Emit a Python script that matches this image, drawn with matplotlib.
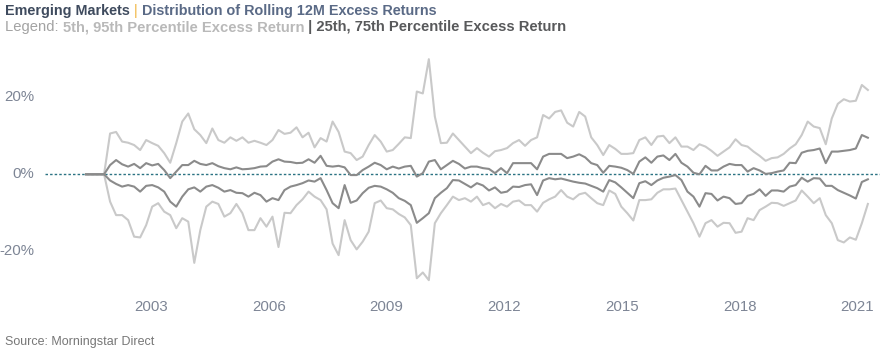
import matplotlib
matplotlib.use("Agg")
import matplotlib.pyplot as plt
import matplotlib.transforms as mtransforms
from matplotlib import font_manager
import numpy as np
import pandas as pd

# ---------------- data (percent) ----------------
p95 = [0, 0, 0, 0,
       10.6, 11.0, 8.5, 8.2, 7.6, 6.3, 8.9, 8.1, 7.4, 5.5, 3.0, 8.1, 13.7, 15.8, 11.7, 10.2, 8.1,
       11.9, 8.9, 8.2, 9.6, 8.7, 9.6, 8.2, 8.7, 8.2, 7.6, 8.9, 11.5, 10.5, 10.8, 12.2, 9.6, 10.8, 7.0, 9.4, 8.5, 13.7, 11.0,
       5.9, 5.5, 3.7, 4.6, 7.6, 10.2, 8.5, 5.9, 6.3, 7.9, 9.6, 9.4, 21.5, 21.0, 29.9, 15.0, 8.1, 8.2, 10.6, 8.9, 7.2, 5.5,
       6.8, 5.6, 4.6, 6.0, 6.3, 6.8, 8.1, 8.9, 7.4, 8.9, 9.6, 15.4, 14.5, 16.2, 16.6, 13.4, 12.4, 16.2, 15.0, 9.6, 7.6, 5.0,
       7.6, 6.6, 5.3, 5.3, 5.5, 8.9, 9.6, 7.6, 9.8, 10.0, 8.1, 9.6, 7.2, 7.2, 6.3, 7.8, 7.2, 6.1, 4.8, 5.9, 7.0, 9.1,
       7.6, 7.2, 5.9, 4.8, 3.5, 4.2, 4.4, 5.3, 6.7, 7.8, 10.2, 13.7, 12.4, 12.0, 7.8, 14.5, 18.3, 19.5, 18.9, 19.1, 23.2, 21.9]

p75 = [0, 0, 0, 0,
       2.4, 3.7, 2.6, 2.0, 2.7, 1.6, 2.9, 2.3, 2.7, 1.1, -1.0, 0.7, 2.4, 2.4, 3.5, 2.7, 2.4,
       2.9, 2.1, 1.6, 1.3, 1.8, 1.3, 1.4, 1.6, 2.0, 2.1, 3.3, 3.9, 3.3, 3.2, 2.9, 3.0, 3.9, 3.0, 4.8, 2.2, 2.0, 2.2,
       1.8, -0.2, -0.2, 1.1, 2.0, 3.0, 2.4, 1.3, 2.0, 1.5, 2.0, 2.2, -0.6, 0.3, 3.3, 3.7, 1.3, 2.4, 3.5, 2.7, 1.5, 2.0,
       2.0, 1.6, 1.4, 0.3, 1.6, 0.3, 2.9, 2.9, 2.9, 2.9, 1.3, 4.6, 5.3, 5.3, 5.3, 4.2, 4.6, 5.2, 4.4, 2.9, 2.4, 0.4,
       2.2, 2.0, 1.7, 1.1, 0.1, 3.3, 4.4, 3.0, 4.6, 4.9, 3.7, 5.3, 3.0, 2.0, 0.4, 0.0, 2.2, 1.0, 1.0, 2.0, 2.7, 2.4,
       2.4, 0.7, 1.6, 1.0, 0.1, 0.3, 0.7, 1.0, 3.0, 2.9, 5.6, 6.1, 6.3, 6.7, 2.9, 5.9, 5.9, 6.1, 6.3, 6.7, 10.2, 9.5]

p25 = [0, 0, 0, 0,
       -1.6, -2.5, -3.2, -2.8, -3.2, -4.5, -3.0, -2.8, -3.4, -4.5, -7.1, -8.4, -5.8, -3.9, -3.4, -4.5, -3.2,
       -2.8, -3.5, -4.5, -4.1, -4.8, -4.9, -5.8, -4.8, -5.4, -7.1, -6.2, -6.7, -4.1, -3.2, -2.8, -2.3, -1.6, -1.9, -1.0, -4.1, -7.5, -8.8,
       -2.8, -7.4, -6.8, -4.9, -3.5, -3.0, -3.2, -3.9, -4.8, -6.2, -6.9, -8.0, -12.6, -11.4, -10.1, -6.2, -4.8, -3.6, -1.5, -1.6, -2.5, -3.4,
       -2.3, -2.9, -4.2, -3.4, -4.8, -4.5, -3.2, -3.3, -2.8, -2.6, -5.4, -1.6, -1.0, -1.3, -1.1, -1.5, -1.9, -2.2, -2.4, -3.0, -3.6, -4.5,
       -1.5, -2.1, -3.4, -4.8, -6.2, -2.3, -1.8, -2.8, -1.6, -0.9, -0.6, -0.2, -1.5, -4.5, -5.8, -8.4, -4.9, -5.1, -6.8, -5.8, -6.2, -7.7,
       -7.5, -5.6, -5.1, -3.9, -5.6, -4.2, -4.2, -4.5, -3.2, -2.8, -0.9, -1.9, -1.0, -1.1, -3.0, -3.0, -4.1, -4.8, -5.5, -6.3, -2.0, -1.3]

p5 = [0, 0, 0, 0,
      -7.1, -10.6, -10.6, -11.9, -16.2, -16.4, -13.2, -8.4, -7.5, -9.7, -10.6, -14.0, -11.4, -12.3, -23.0, -14.5, -8.4,
      -7.1, -7.7, -11.0, -10.1, -7.7, -10.1, -14.5, -14.5, -11.4, -13.6, -11.0, -18.9, -10.0, -10.1, -8.0, -6.5, -4.5, -5.8, -6.7, -9.1, -18.0, -21.0,
      -11.9, -17.1, -19.5, -17.5, -14.9, -7.5, -6.8, -8.8, -9.1, -10.3, -11.2, -13.2, -27.0, -25.5, -27.5, -12.7, -10.1, -8.0, -5.8, -6.7, -6.2, -7.1,
      -5.8, -8.0, -7.4, -8.8, -7.7, -8.4, -7.1, -6.8, -8.0, -8.0, -9.7, -7.4, -6.5, -5.8, -4.1, -5.8, -6.5, -5.2, -4.8, -6.2, -7.5, -8.0,
      -4.2, -5.1, -8.4, -10.1, -12.0, -6.7, -6.7, -6.5, -4.8, -3.9, -3.9, -3.7, -6.7, -9.7, -12.7, -16.2, -12.7, -11.9, -13.6, -12.6, -12.7, -15.2,
      -14.9, -11.4, -11.9, -9.3, -8.4, -7.4, -7.5, -8.2, -7.5, -6.8, -4.2, -5.8, -7.5, -6.2, -10.6, -12.7, -17.1, -17.7, -16.4, -17.0, -12.7, -7.7]

start_date = "2001-05-05"
step = "56D"
tick_years = [2003, 2006, 2009, 2012, 2015, 2018, 2021]
y_ticks = [-20, 0, 20]
y_tick_labels = ["-20%", "0%", "20%"]

dates = pd.date_range(start_date, periods=len(p95), freq=step)


def has_font(name):
    try:
        font_manager.findfont(font_manager.FontProperties(family=name), fallback_to_default=False)
        return True
    except Exception:
        return False


NARROW = "Liberation Sans Narrow" if has_font("Liberation Sans Narrow") else "Liberation Sans"
REG = "Liberation Sans"

fig = plt.figure(figsize=(8.8, 3.52), dpi=100)
ax = fig.add_axes([45 / 880, 1 - 289.8 / 352, 835 / 880, (289.8 - 39.55) / 352])

LIGHT = "#c9c9c9"
DARK = "#8b8b8b"

ax.axhline(0, color="#2b7383", lw=1.0, ls=(0, (1.8, 1.5)), zorder=1)
ax.plot(dates, p95, color=LIGHT, lw=1.5, zorder=2, solid_joinstyle="round")
ax.plot(dates, p5, color=LIGHT, lw=1.5, zorder=2, solid_joinstyle="round")
ax.plot(dates, p75, color=DARK, lw=1.5, zorder=3, solid_joinstyle="round")
ax.plot(dates, p25, color=DARK, lw=1.5, zorder=3, solid_joinstyle="round")

ax.set_ylim(-30, 35)
ax.set_xlim(pd.Timestamp("2000-04-18"), pd.Timestamp("2021-08-01"))
ax.set_yticks(y_ticks)
ax.set_yticklabels(y_tick_labels)
ax.set_xticks([pd.Timestamp(y, 1, 1) for y in tick_years])
ax.set_xticklabels([str(y) for y in tick_years])
ax.tick_params(length=0, labelsize=10.8, labelcolor="#7d8595", pad=7)
ax.tick_params(axis="y", pad=8)
for lab in ax.get_xticklabels() + ax.get_yticklabels():
    lab.set_fontfamily(REG)
shift_up = mtransforms.ScaledTranslation(0, 2 / 100, fig.dpi_scale_trans)
for lab in ax.get_yticklabels():
    lab.set_transform(lab.get_transform() + shift_up)
for s in ax.spines.values():
    s.set_visible(False)
ax.set_facecolor("none")

# ---------------- header ----------------
renderer = fig.canvas.get_renderer()


def write_pieces(pieces, x_px, y_px, size):
    x = x_px / 880
    for txt, color, weight, fam in pieces:
        t = fig.text(x, 1 - y_px / 352, txt, color=color, fontsize=size, fontweight=weight,
                     family=fam, va="baseline", ha="left")
        bb = t.get_window_extent(renderer=renderer)
        x = (bb.x1) / fig.bbox.width


write_pieces([
    ("Emerging Markets ", "#3f4b5e", "bold", NARROW),
    ("|", "#f0b23a", "normal", NARROW),
    (" Distribution of Rolling 12M Excess Returns", "#5a6a86", "bold", NARROW),
], 5, 15, 10.4)

write_pieces([
    ("Legend: ", "#a3a3a3", "normal", NARROW),
    ("5th, 95th Percentile Excess Return", "#b9b9b9", "bold", NARROW),
    (" | 25th, 75th Percentile Excess Return", "#58595b", "bold", NARROW),
], 5, 31, 10.65)

fig.text(5 / 880, 1 - 345 / 352, "Source: Morningstar Direct", color="#777777",
         fontsize=9.0, family=NARROW, va="baseline", ha="left")

fig.savefig("out.png", dpi=100)
